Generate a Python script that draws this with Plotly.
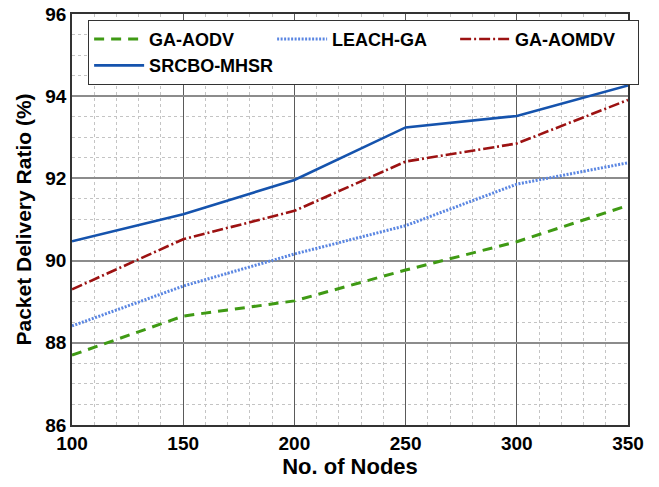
import plotly.graph_objects as go

nodes = [100, 150, 200, 250, 300, 350]
ga_aodv = [87.70, 88.65, 89.02, 89.77, 90.46, 91.34]
leach_ga = [88.41, 89.38, 90.16, 90.85, 91.86, 92.38]
ga_aomdv = [89.30, 90.52, 91.21, 92.41, 92.85, 93.91]
srcbo_mhsr = [90.47, 91.13, 91.96, 93.24, 93.52, 94.26]

x_ticks = [100, 150, 200, 250, 300, 350]
y_ticks = [86, 88, 90, 92, 94, 96]

FONT = "Liberation Sans, Arial, sans-serif"

fig = go.Figure()
fig.add_trace(go.Scatter(x=nodes, y=ga_aodv, name="GA-AODV", mode="lines",
                         line=dict(color="#3f9a14", width=3, dash="10px,7px")))
fig.add_trace(go.Scatter(x=nodes, y=leach_ga, name="LEACH-GA", mode="lines",
                         line=dict(color="#5a86e2", width=3, dash="2px,1.5px")))
fig.add_trace(go.Scatter(x=nodes, y=ga_aomdv, name="GA-AOMDV", mode="lines",
                         line=dict(color="#9c1212", width=2.6, dash="11px,3px,2px,3px")))
fig.add_trace(go.Scatter(x=nodes, y=srcbo_mhsr, name="SRCBO-MHSR", mode="lines",
                         line=dict(color="#1553ad", width=2.6)))

fig.update_layout(
    width=659, height=487,
    margin=dict(l=72, r=31, t=14, b=62),
    paper_bgcolor="white", plot_bgcolor="white",
    font=dict(family=FONT, color="black"),
    showlegend=True,
    legend=dict(
        orientation="h", x=0.029, y=0.986, xanchor="left", yanchor="top",
        bgcolor="white", bordercolor="#333333", borderwidth=1,
        font=dict(family=FONT, size=18, color="black", weight="bold"),
        entrywidth=118, itemwidth=50,
    ),
    xaxis=dict(
        range=[100, 350], tickvals=x_ticks, ticktext=[str(v) for v in x_ticks],
        tickfont=dict(family=FONT, size=19, weight="bold"),
        title=dict(text="No. of Nodes", font=dict(family=FONT, size=22, weight="bold"), standoff=6),
        showgrid=True, gridcolor="#5a5a5a", gridwidth=1,
        minor=dict(dtick=10, showgrid=True, gridcolor="#c4c4c4", griddash="dot", gridwidth=1),
        showline=True, linecolor="#333333", linewidth=1.5, mirror=True,
        zeroline=False, ticks="", automargin=False, ticklabeloverflow="allow",
    ),
    yaxis=dict(
        range=[86, 96], tickvals=y_ticks, ticktext=[str(v) for v in y_ticks],
        tickfont=dict(family=FONT, size=19, weight="bold"),
        title=dict(text="Packet Delivery Ratio (%)", font=dict(family=FONT, size=21, weight="bold"), standoff=8),
        showgrid=True, gridcolor="#8c8c8c", gridwidth=1.5,
        minor=dict(dtick=0.5, showgrid=True, gridcolor="#c4c4c4", griddash="dot", gridwidth=1),
        showline=True, linecolor="#333333", linewidth=1.5, mirror=True,
        zeroline=False, ticks="", automargin=False, ticklabeloverflow="allow",
    ),
)

fig.write_html("out.html", config={"displayModeBar": False},
               post_script="document.body.style.margin='0';")
